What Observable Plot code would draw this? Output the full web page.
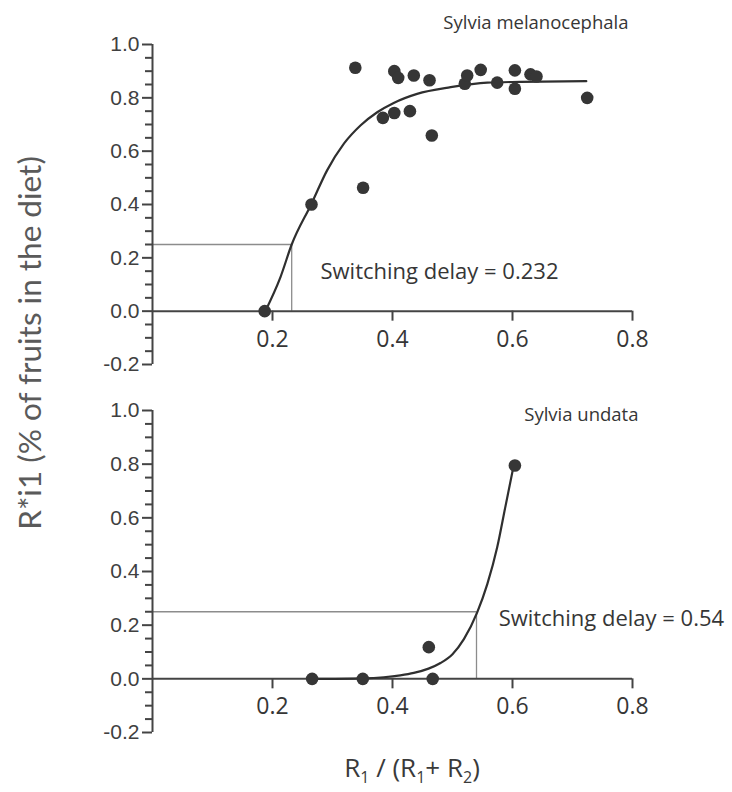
<!DOCTYPE html>
<html>
<head>
<meta charset="utf-8">
<script src="https://cdn.jsdelivr.net/npm/d3@7"></script>
<script src="https://cdn.jsdelivr.net/npm/@observablehq/plot@0.6"></script>
<style>
  html, body { margin: 0; padding: 0; background: #fff; }
  #wrap { position: relative; width: 732px; height: 792px; overflow: hidden; background: #fff; }
  #top { position: absolute; left: 0; top: 0; }
  #bottom { position: absolute; left: 0; top: 380px; }
  #ylab { position: absolute; left: 29px; top: 343px; transform: translate(-50%, -50%) rotate(-90deg);
          white-space: nowrap; font-family: Lato, "Open Sans", sans-serif; font-size: 31.5px; color: #5a5a5a; }
  #xlab { position: absolute; left: 412px; top: 769px; transform: translate(-50%, -50%);
          white-space: nowrap; font-family: "Open Sans", sans-serif; font-size: 26px; color: #3a3a3a; line-height: 1; }
  #xlab sub { font-size: 16px; vertical-align: -6px; }
</style>
</head>
<body>
<div id="wrap">
  <div id="top"></div>
  <div id="bottom"></div>
  <div id="ylab">R*i1 (% of fruits in the diet)</div>
  <div id="xlab">R<sub>1</sub> / (R<sub>1</sub>+ R<sub>2</sub>)</div>
</div>
<script>
// ---------- data ----------
const xTicks = [0.2, 0.4, 0.6, 0.8];
const yTicks = [-0.2, 0.0, 0.2, 0.4, 0.6, 0.8, 1.0];
const yMinorTicks = [-0.15, -0.1, -0.05, 0.05, 0.1, 0.15, 0.25, 0.3, 0.35, 0.45, 0.5, 0.55, 0.65, 0.7, 0.75, 0.85, 0.9, 0.95];

// Sylvia melanocephala
const topTitle = "Sylvia melanocephala";
const topPointsX = [0.187, 0.265, 0.338, 0.351, 0.384, 0.403, 0.403, 0.4095, 0.429, 0.4355, 0.4617, 0.4655, 0.5205, 0.5245, 0.547, 0.5745, 0.604, 0.604, 0.63, 0.64, 0.7245];
const topPointsY = [0.0, 0.40, 0.913, 0.463, 0.725, 0.743, 0.900, 0.875, 0.750, 0.884, 0.866, 0.659, 0.853, 0.884, 0.905, 0.857, 0.903, 0.834, 0.888, 0.880, 0.800];
const topCurveX = [0.188, 0.2133, 0.232, 0.265, 0.291, 0.319, 0.347, 0.3745, 0.402, 0.441, 0.497, 0.558, 0.613, 0.723];
const topCurveY = [0.0, 0.128, 0.25, 0.403, 0.528, 0.628, 0.697, 0.746, 0.781, 0.815, 0.840, 0.857, 0.860, 0.8625];
const topDelay = 0.232;
const topThreshold = 0.25;
const topDelayLabel = "Switching delay = 0.232";

// Sylvia undata
const bottomTitle = "Sylvia undata";
const bottomPointsX = [0.266, 0.3505, 0.4605, 0.467, 0.604];
const bottomPointsY = [0.0, 0.0, 0.118, 0.0, 0.795];
const bottomCurveX = [0.266, 0.3505, 0.3855, 0.413, 0.4355, 0.46, 0.48, 0.5, 0.519, 0.541, 0.558, 0.5745, 0.588, 0.602];
const bottomCurveY = [0.0, 0.002, 0.006, 0.013, 0.022, 0.038, 0.059, 0.092, 0.148, 0.247, 0.353, 0.49, 0.64, 0.795];
const bottomDelay = 0.54;
const bottomThreshold = 0.25;
const bottomDelayLabel = "Switching delay = 0.54";

// ---------- drawing ----------
const dark = "#363636";
const axisColor = "#444";
const thin = "#8c8c8c";

function panel({title, px, py, cx, cy, delay, threshold, delayLabel, height, marginTop, marginBottom,
                titleDx, titleDy, labelX, labelY}) {
  const pts = px.map((x, i) => ({x, y: py[i]}));
  const crv = cx.map((x, i) => ({x, y: cy[i]}));
  return Plot.plot({
    width: 732,
    height,
    marginLeft: 152,
    marginRight: 100,
    marginTop,
    marginBottom,
    style: {fontFamily: "'Liberation Sans', Arial, sans-serif", background: "#fff", overflow: "visible"},
    x: {domain: [0, 0.8], axis: null},
    y: {domain: [-0.2, 1.0]},
    marks: [
      // switching-delay guide lines
      Plot.ruleY([threshold], {x1: 0, x2: delay, stroke: thin, strokeWidth: 1.3}),
      Plot.ruleX([delay], {y1: 0, y2: threshold, stroke: thin, strokeWidth: 1.3}),
      // y axis: minor ticks, major ticks, labels, spine
      Plot.axisY({ticks: yMinorTicks, tickSize: 7, tickFormat: () => "", label: null, color: axisColor, strokeWidth: 2}),
      Plot.axisY({ticks: yTicks, tickSize: 10, tickFormat: () => "", label: null, color: axisColor, strokeWidth: 2}),
      Plot.text(yTicks, {x: 0, y: d => d, dx: -13, textAnchor: "end", text: d => d.toFixed(1),
                         fontSize: 21, fontFamily: "'Liberation Sans', Arial, sans-serif", fill: "#404040"}),
      Plot.ruleX([0], {y1: -0.2, y2: 1.0, stroke: axisColor, strokeWidth: 2}),
      // x axis drawn at y = 0
      Plot.ruleY([0], {x1: 0, x2: 0.8, stroke: axisColor, strokeWidth: 2}),
      Plot.ruleX(xTicks, {x: d => d, y1: 0, y2: 0, insetBottom: -10, stroke: axisColor, strokeWidth: 2}),
      Plot.text(xTicks, {x: d => d, y: 0, dy: 28, text: d => d.toFixed(1), fontSize: 23,
                         fontFamily: "'Open Sans', sans-serif", fill: dark}),
      // fitted curve and observations
      Plot.line(crv, {x: "x", y: "y", curve: "monotone-x", stroke: "#2f2f2f", strokeWidth: 2.2}),
      Plot.dot(pts, {x: "x", y: "y", r: 6.3, fill: dark, stroke: "none"}),
      // annotations
      Plot.text([delayLabel], {x: labelX, y: labelY, textAnchor: "start", fontSize: 22,
                               fontFamily: "'Open Sans', sans-serif", fill: dark}),
      Plot.text([title], {frameAnchor: "top-right", dx: titleDx, dy: titleDy, textAnchor: "end", lineAnchor: "middle",
                          fontSize: 18.5, fontFamily: "'Open Sans', sans-serif", fill: dark})
    ]
  });
}

document.getElementById("top").append(panel({
  title: topTitle, px: topPointsX, py: topPointsY, cx: topCurveX, cy: topCurveY,
  delay: topDelay, threshold: topThreshold, delayLabel: topDelayLabel,
  height: 380, marginTop: 44, marginBottom: 16, titleDx: -4, titleDy: -21,
  labelX: 0.28, labelY: 0.146
}));

document.getElementById("bottom").append(panel({
  title: bottomTitle, px: bottomPointsX, py: bottomPointsY, cx: bottomCurveX, cy: bottomCurveY,
  delay: bottomDelay, threshold: bottomThreshold, delayLabel: bottomDelayLabel,
  height: 372, marginTop: 30, marginBottom: 20, titleDx: 6, titleDy: 5,
  labelX: 0.577, labelY: 0.224
}));
</script>
</body>
</html>
